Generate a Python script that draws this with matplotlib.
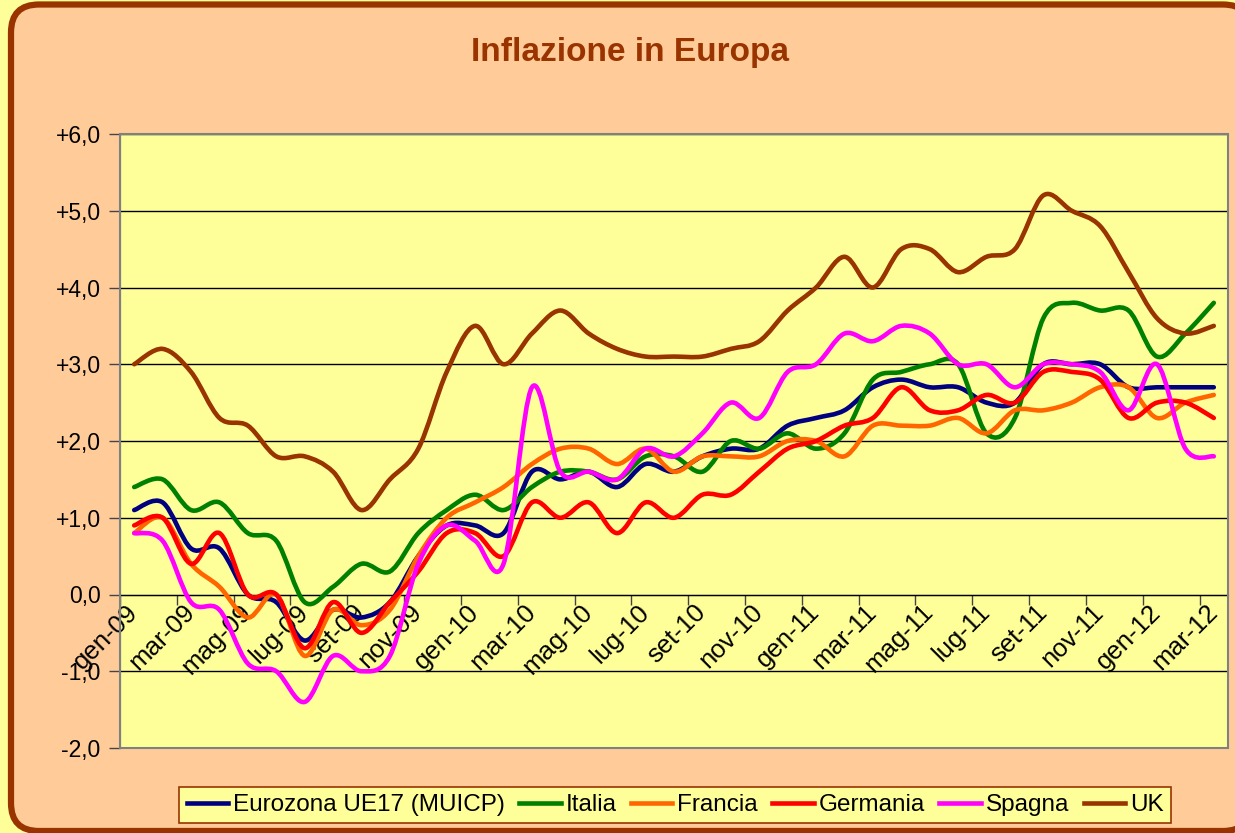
import matplotlib
matplotlib.use('Agg')
import matplotlib.pyplot as plt
from matplotlib.path import Path
from matplotlib.patches import PathPatch, FancyBboxPatch, Rectangle
from matplotlib.lines import Line2D
from matplotlib.ticker import FuncFormatter
from matplotlib.transforms import ScaledTranslation
import numpy as np

plt.rcParams['font.family'] = ['Liberation Sans', 'DejaVu Sans']

# mesi: gen-09 ... mar-12
mesi = ['gen', 'feb', 'mar', 'apr', 'mag', 'giu', 'lug', 'ago', 'set', 'ott', 'nov', 'dic']
anni = ['09', '10', '11', '12']
categorie = [m + '-' + a for a in anni for m in mesi][:39]

# inflazione annua (%)
eurozona = [1.1, 1.2, 0.6, 0.6, 0.0, -0.1, -0.6, -0.2, -0.3, -0.1, 0.5, 0.9,
            0.9, 0.8, 1.6, 1.5, 1.6, 1.4, 1.7, 1.6, 1.8, 1.9, 1.9, 2.2,
            2.3, 2.4, 2.7, 2.8, 2.7, 2.7, 2.5, 2.5, 3.0, 3.0, 3.0, 2.7,
            2.7, 2.7, 2.7]
italia = [1.4, 1.5, 1.1, 1.2, 0.8, 0.7, -0.1, 0.1, 0.4, 0.3, 0.8, 1.1,
          1.3, 1.1, 1.4, 1.6, 1.6, 1.5, 1.8, 1.8, 1.6, 2.0, 1.9, 2.1,
          1.9, 2.1, 2.8, 2.9, 3.0, 3.0, 2.1, 2.3, 3.6, 3.8, 3.7, 3.7,
          3.1, 3.4, 3.8]
francia = [0.8, 1.0, 0.4, 0.1, -0.3, 0.0, -0.8, -0.2, -0.4, -0.2, 0.5, 1.0,
           1.2, 1.4, 1.7, 1.9, 1.9, 1.7, 1.9, 1.6, 1.8, 1.8, 1.8, 2.0,
           2.0, 1.8, 2.2, 2.2, 2.2, 2.3, 2.1, 2.4, 2.4, 2.5, 2.7, 2.7,
           2.3, 2.5, 2.6]
germania = [0.9, 1.0, 0.4, 0.8, 0.0, 0.0, -0.7, -0.1, -0.5, -0.1, 0.3, 0.8,
            0.8, 0.5, 1.2, 1.0, 1.2, 0.8, 1.2, 1.0, 1.3, 1.3, 1.6, 1.9,
            2.0, 2.2, 2.3, 2.7, 2.4, 2.4, 2.6, 2.5, 2.9, 2.9, 2.8, 2.3,
            2.5, 2.5, 2.3]
spagna = [0.8, 0.7, -0.1, -0.2, -0.9, -1.0, -1.4, -0.8, -1.0, -0.8, 0.4, 0.9,
          0.7, 0.4, 2.7, 1.6, 1.6, 1.5, 1.9, 1.8, 2.1, 2.5, 2.3, 2.9,
          3.0, 3.4, 3.3, 3.5, 3.4, 3.0, 3.0, 2.7, 3.0, 3.0, 2.9, 2.4,
          3.0, 1.9, 1.8]
uk = [3.0, 3.2, 2.9, 2.3, 2.2, 1.8, 1.8, 1.6, 1.1, 1.5, 1.9, 2.9,
      3.5, 3.0, 3.4, 3.7, 3.4, 3.2, 3.1, 3.1, 3.1, 3.2, 3.3, 3.7,
      4.0, 4.4, 4.0, 4.5, 4.5, 4.2, 4.4, 4.5, 5.2, 5.0, 4.8, 4.2,
      3.6, 3.4, 3.5]

serie = ['Eurozona UE17 (MUICP)', 'Italia', 'Francia', 'Germania', 'Spagna', 'UK']
valori = [eurozona, italia, francia, germania, spagna, uk]
colori = ['#000080', '#008000', '#FF6600', '#FF0000', '#FF00FF', '#993300']


def linea_smussata(x, y):
    # curva di Bezier stile "linea smussata" di Excel
    n = len(x)
    verts = [(x[0], y[0])]
    codes = [Path.MOVETO]
    for i in range(n - 1):
        a = i - 1 if i > 0 else i
        d = i + 2 if i + 2 < n else i + 1
        c1 = (x[i] + (x[i + 1] - x[a]) / 6, y[i] + (y[i + 1] - y[a]) / 6)
        c2 = (x[i + 1] - (x[d] - x[i]) / 6, y[i + 1] - (y[d] - y[i]) / 6)
        verts += [c1, c2, (x[i + 1], y[i + 1])]
        codes += [Path.CURVE4] * 3
    return Path(verts, codes)


fig = plt.figure(figsize=(12.35, 8.33), dpi=100)
fig.patch.set_facecolor('#FFFF99')

cornice = FancyBboxPatch((0.11, 0.02), 12.40, 8.265,
                         boxstyle='round,pad=0,rounding_size=0.28',
                         transform=fig.dpi_scale_trans,
                         facecolor='#FFCC99', edgecolor='#993300',
                         linewidth=4.5, zorder=-10)
fig.patches.append(cornice)

ax = fig.add_axes([120 / 1235, 1 - 748 / 833, 1108 / 1235, 614 / 833])
ax.set_facecolor('#FFFF99')

x = np.arange(len(categorie))
for nome, vals, col in zip(serie, valori, colori):
    p = PathPatch(linea_smussata(x, vals), facecolor='none', edgecolor=col,
                  linewidth=3.3, capstyle='round', joinstyle='round', zorder=3)
    ax.add_patch(p)

ax.set_xlim(-0.5, len(categorie) - 0.5)
ax.set_ylim(-2, 6)

# griglia
ax.set_yticks(np.arange(-2, 7, 1))
ax.yaxis.grid(True, color='black', linewidth=1.0)
ax.set_axisbelow(True)

def fmt(v, pos):
    s = ('%+.1f' % v).replace('.', ',')
    if abs(v) < 1e-9:
        s = '0,0'
    return s

ax.yaxis.set_major_formatter(FuncFormatter(fmt))
ax.tick_params(axis='y', direction='out', length=8, width=1, color='#444444',
               labelsize=16.5, pad=6)

# asse categorie sullo zero
ax.spines['bottom'].set_position(('data', 0))
ax.spines['bottom'].set_color('black')
ax.spines['top'].set_visible(False)
ax.spines['right'].set_visible(False)
ax.spines['left'].set_color('#444444')

ax.set_xticks(x[::2])
ax.set_xticklabels(categorie[::2], rotation=45, ha='right', va='center',
                   rotation_mode='anchor', fontsize=18.5)
sposta = ScaledTranslation(-9 / 100, 0, fig.dpi_scale_trans)
for lab in ax.get_xticklabels():
    lab.set_transform(lab.get_transform() + sposta)
ax.set_xticks(np.arange(-0.5, len(categorie), 2), minor=True)
ax.tick_params(axis='x', which='major', length=0, pad=10)
ax.tick_params(axis='x', which='minor', length=7, width=1, color='#444444',
               direction='out')

ax.add_patch(Rectangle((0, 0), 1, 1, transform=ax.transAxes, fill=False,
                       edgecolor='#808080', linewidth=1.5, zorder=4, clip_on=False))

fig.text(630 / 1235, 1 - 52 / 833, 'Inflazione in Europa', ha='center', va='center',
         fontsize=24, fontweight='bold', color='#993300')

maniglie = [Line2D([], [], color=c, linewidth=3.3) for c in colori]
leg = fig.legend(maniglie, serie, loc='center', ncol=6,
                 bbox_to_anchor=(675 / 1235, 1 - 805 / 833),
                 fontsize=17.5, handlelength=1.7, handletextpad=0.2,
                 columnspacing=0.6, borderpad=0.3, fancybox=False,
                 frameon=True)
leg.get_frame().set_facecolor('#FFFF99')
leg.get_frame().set_edgecolor('#993300')
leg.get_frame().set_linewidth(1.2)
leg.get_frame().set_alpha(1)

fig.savefig('out.png', dpi=100, facecolor=fig.get_facecolor())
